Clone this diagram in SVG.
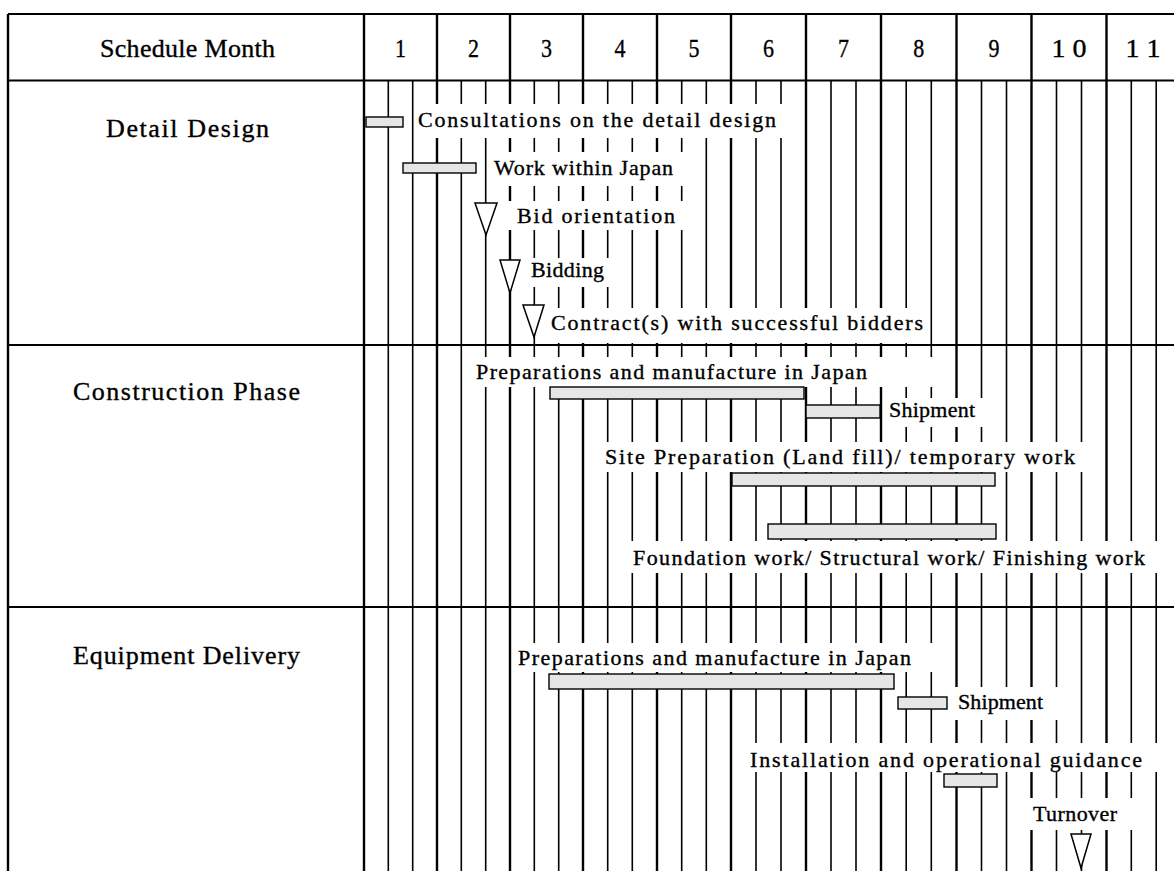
<svg xmlns="http://www.w3.org/2000/svg" width="1174" height="871" viewBox="0 0 1174 871">
<style>
.bg{fill:#fff}
.thick{stroke:#000;stroke-width:2.4;fill:none}
.thin{stroke:#000;stroke-width:1.6;fill:none}
.hline{stroke:#000;stroke-width:2.2;fill:none}
.mask{fill:#fff}
.bar{fill:#e6e6e6;stroke:#000;stroke-width:1.4}
.ms{fill:#fff;stroke:#000;stroke-width:1.5}
.lbl{font-family:"Liberation Serif","Times New Roman",serif;font-size:22px;fill:#000;stroke:#000;stroke-width:0.35}
.head{font-family:"Liberation Serif","Times New Roman",serif;font-size:26px;fill:#000;stroke:#000;stroke-width:0.35}
</style>
<rect class="bg" x="0" y="0" width="1174" height="871"/>
<g id="grid">
  <line class="hline" x1="8" y1="14" x2="1174" y2="14"/>
  <line class="hline" x1="8" y1="80.5" x2="1174" y2="80.5"/>
  <line class="hline" x1="8" y1="345" x2="1174" y2="345"/>
  <line class="hline" x1="8" y1="607" x2="1174" y2="607"/>
  <line class="thick" x1="8" y1="14" x2="8" y2="871"/>
  <g class="thick">
    <line x1="364" y1="14" x2="364" y2="871"/>
    <line x1="437" y1="14" x2="437" y2="871"/>
    <line x1="510" y1="14" x2="510" y2="871"/>
    <line x1="583" y1="14" x2="583" y2="871"/>
    <line x1="657" y1="14" x2="657" y2="871"/>
    <line x1="731" y1="14" x2="731" y2="871"/>
    <line x1="806" y1="14" x2="806" y2="871"/>
    <line x1="881" y1="14" x2="881" y2="871"/>
    <line x1="956.5" y1="14" x2="956.5" y2="871"/>
    <line x1="1031.5" y1="14" x2="1031.5" y2="871"/>
    <line x1="1106.5" y1="14" x2="1106.5" y2="871"/>
  </g>
  <g class="thin">
    <line x1="388.3" y1="80.5" x2="388.3" y2="871"/>
    <line x1="412.7" y1="80.5" x2="412.7" y2="871"/>
    <line x1="461.3" y1="80.5" x2="461.3" y2="871"/>
    <line x1="485.7" y1="80.5" x2="485.7" y2="871"/>
    <line x1="534.3" y1="80.5" x2="534.3" y2="871"/>
    <line x1="558.7" y1="80.5" x2="558.7" y2="871"/>
    <line x1="607.7" y1="80.5" x2="607.7" y2="871"/>
    <line x1="632.3" y1="80.5" x2="632.3" y2="871"/>
    <line x1="681.7" y1="80.5" x2="681.7" y2="871"/>
    <line x1="706.3" y1="80.5" x2="706.3" y2="871"/>
    <line x1="756" y1="80.5" x2="756" y2="871"/>
    <line x1="781" y1="80.5" x2="781" y2="871"/>
    <line x1="831" y1="80.5" x2="831" y2="871"/>
    <line x1="856" y1="80.5" x2="856" y2="871"/>
    <line x1="906.2" y1="80.5" x2="906.2" y2="871"/>
    <line x1="931.3" y1="80.5" x2="931.3" y2="871"/>
    <line x1="981.5" y1="80.5" x2="981.5" y2="871"/>
    <line x1="1006.5" y1="80.5" x2="1006.5" y2="871"/>
    <line x1="1056.5" y1="80.5" x2="1056.5" y2="871"/>
    <line x1="1081.5" y1="80.5" x2="1081.5" y2="871"/>
    <line x1="1131.3" y1="80.5" x2="1131.3" y2="871"/>
    <line x1="1156.2" y1="80.5" x2="1156.2" y2="871"/>
  </g>
</g>
<g id="header">
  <text class="head" x="100" y="57" textLength="175" lengthAdjust="spacing">Schedule Month</text>
  <g text-anchor="middle">
    <text class="head" x="400.5" y="57" textLength="11" lengthAdjust="spacingAndGlyphs">1</text>
    <text class="head" x="473.5" y="57" textLength="11" lengthAdjust="spacingAndGlyphs">2</text>
    <text class="head" x="546.5" y="57" textLength="11" lengthAdjust="spacingAndGlyphs">3</text>
    <text class="head" x="620" y="57" textLength="11" lengthAdjust="spacingAndGlyphs">4</text>
    <text class="head" x="694" y="57" textLength="11" lengthAdjust="spacingAndGlyphs">5</text>
    <text class="head" x="768.5" y="57" textLength="11" lengthAdjust="spacingAndGlyphs">6</text>
    <text class="head" x="843.5" y="57" textLength="11" lengthAdjust="spacingAndGlyphs">7</text>
    <text class="head" x="918.7" y="57" textLength="11" lengthAdjust="spacingAndGlyphs">8</text>
    <text class="head" x="994" y="57" textLength="11" lengthAdjust="spacingAndGlyphs">9</text>
    <text class="head" x="1069" y="57" textLength="35" lengthAdjust="spacingAndGlyphs">1 0</text>
    <text class="head" x="1143" y="57" textLength="35" lengthAdjust="spacingAndGlyphs">1 1</text>
  </g>
</g>
<g id="row-detail-design">
  <text class="head" x="106" y="137" textLength="163" lengthAdjust="spacing">Detail Design</text>
</g>
<g id="row-construction">
  <text class="head" x="73" y="400" textLength="227" lengthAdjust="spacing">Construction Phase</text>
</g>
<g id="row-equipment">
  <text class="head" x="73" y="664" textLength="227" lengthAdjust="spacing">Equipment Delivery</text>
</g>
<g id="task-consultations">
  <rect class="mask" x="414" y="104" width="374" height="34"/>
  <rect class="bar" x="366" y="117" width="37" height="10"/>
  <text class="lbl" x="418" y="127" textLength="358" lengthAdjust="spacing">Consultations on the detail design</text>
</g>
<g id="task-work-japan">
  <rect class="mask" x="489" y="152" width="201" height="34"/>
  <rect class="bar" x="403" y="163" width="73" height="10"/>
  <text class="lbl" x="494" y="175" textLength="179" lengthAdjust="spacing">Work within Japan</text>
</g>
<g id="task-bid-orientation">
  <rect class="mask" x="500" y="201" width="190" height="29"/>
  <polygon class="ms" points="475,203 497,203 486,235"/>
  <text class="lbl" x="517" y="223" textLength="158" lengthAdjust="spacing">Bid orientation</text>
</g>
<g id="task-bidding">
  <rect class="mask" x="525" y="258" width="91" height="29"/>
  <polygon class="ms" points="500,260 520,260 510,293"/>
  <text class="lbl" x="531" y="277" textLength="73" lengthAdjust="spacing">Bidding</text>
</g>
<g id="task-contract">
  <rect class="mask" x="545" y="308" width="385" height="35"/>
  <polygon class="ms" points="523,305 544,305 534,337"/>
  <text class="lbl" x="551" y="330" textLength="372" lengthAdjust="spacing">Contract(s) with successful bidders</text>
</g>
<g id="task-c-preparations">
  <rect class="mask" x="470" y="357" width="475" height="30"/>
  <rect class="bar" x="550" y="387" width="254" height="12"/>
  <text class="lbl" x="476" y="379" textLength="391" lengthAdjust="spacing">Preparations and manufacture in Japan</text>
</g>
<g id="task-c-shipment">
  <rect class="mask" x="884" y="398" width="111" height="29"/>
  <rect class="bar" x="806" y="405" width="74" height="13"/>
  <text class="lbl" x="889" y="417" textLength="86" lengthAdjust="spacing">Shipment</text>
</g>
<g id="task-site-preparation">
  <rect class="mask" x="598" y="442" width="492" height="30"/>
  <rect class="bar" x="732" y="473" width="263" height="13"/>
  <text class="lbl" x="605" y="464" textLength="470" lengthAdjust="spacing">Site Preparation (Land fill)/ temporary work</text>
</g>
<g id="task-foundation">
  <rect class="mask" x="625" y="541" width="540" height="32"/>
  <rect class="bar" x="768" y="524" width="228" height="15"/>
  <text class="lbl" x="633" y="565" textLength="512" lengthAdjust="spacing">Foundation work/ Structural work/ Finishing work</text>
</g>
<g id="task-e-preparations">
  <rect class="mask" x="512" y="643" width="428" height="29"/>
  <rect class="bar" x="549" y="674" width="345" height="15"/>
  <text class="lbl" x="518" y="665" textLength="393" lengthAdjust="spacing">Preparations and manufacture in Japan</text>
</g>
<g id="task-e-shipment">
  <rect class="mask" x="952" y="687" width="118" height="33"/>
  <rect class="bar" x="898" y="697" width="49" height="12"/>
  <text class="lbl" x="958" y="709" textLength="85" lengthAdjust="spacing">Shipment</text>
</g>
<g id="task-installation">
  <rect class="mask" x="742" y="743" width="423" height="29"/>
  <rect class="bar" x="944" y="774" width="53" height="13"/>
  <text class="lbl" x="750" y="767" textLength="392" lengthAdjust="spacing">Installation and operational guidance</text>
</g>
<g id="task-turnover">
  <rect class="mask" x="1022" y="798" width="120" height="32"/>
  <polygon class="ms" points="1071,834 1091,834 1081,868"/>
  <text class="lbl" x="1033" y="821" textLength="84" lengthAdjust="spacing">Turnover</text>
</g>
</svg>
